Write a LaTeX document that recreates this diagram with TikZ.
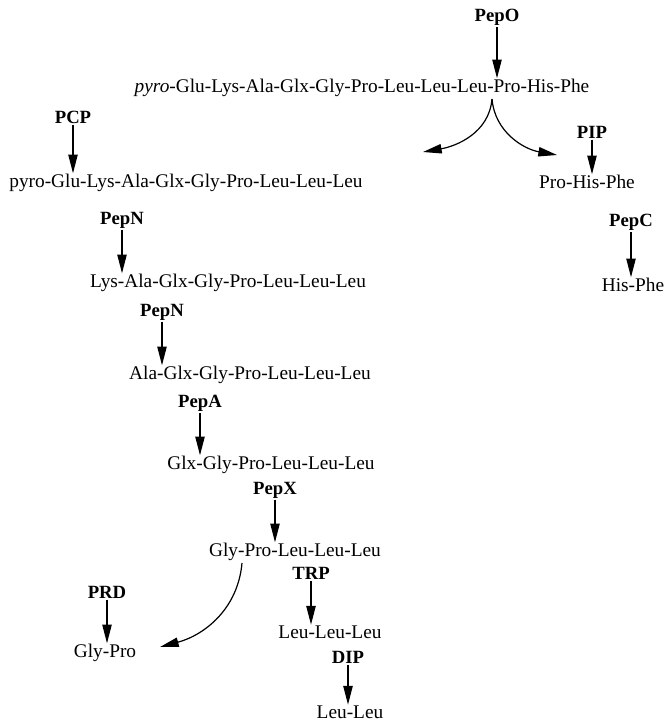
\documentclass[tikz,border=0pt]{standalone}
\usepackage{fontspec}
\setmainfont{Liberation Serif}
\usetikzlibrary{arrows.meta}
\tikzset{
    every node/.style={inner sep=0.5pt, font=\fontsize{14.5}{17}\selectfont}
}
\tikzset{
    enzyme/.style={inner sep=1pt, font=\fontsize{14}{17}\selectfont\bfseries}
}
\tikzset{
    every edge/.append style={line width=0.9pt,
    	-{Triangle[length=14pt,width=7pt]}}
}

\begin{document}
\begin{tikzpicture}[x=0.75pt, y=-0.75pt]
	\useasboundingbox (0,0) rectangle (667,721);
	\node (PepO) [enzyme] at (497, 17) {PepO};
	\node (top) at (362, 88) {\textit{pyro}-Glu-Lys-Ala-Glx-Gly-Pro-Leu-Leu-Leu-Pro-His-Phe};
	\node (PCP) [enzyme] at (73, 117) {PCP};
	\node (c2) at (186, 183) {pyro-Glu-Lys-Ala-Glx-Gly-Pro-Leu-Leu-Leu};
	\node (PepN1) [enzyme] at (122, 220) {PepN};
	\node (c3) at (228, 283) {Lys-Ala-Glx-Gly-Pro-Leu-Leu-Leu};
	\node (PepN2) [enzyme] at (162, 312) {PepN};
	\node (c4) at (250, 375) {Ala-Glx-Gly-Pro-Leu-Leu-Leu};
	\node (PepA) [enzyme] at (200, 403) {PepA};
	\node (c5) at (271, 465) {Glx-Gly-Pro-Leu-Leu-Leu};
	\node (PepX) [enzyme] at (275, 490) {PepX};
	\node (c6) at (295, 552) {Gly-Pro-Leu-Leu-Leu};
	\node (TRP) [enzyme] at (311, 573) {TRP};
	\node (lll) at (330, 632) {Leu-Leu-Leu};
	\node (DIP) [enzyme] at (348, 657) {DIP};
	\node (ll) at (350, 712) {Leu-Leu};
	\node (PRD) [enzyme] at (107, 592) {PRD};
	\node (gp) at (105, 653) {Gly-Pro};
	\node (PIP) [enzyme] at (592, 132) {PIP};
	\node (phf) at (587, 182) {Pro-His-Phe};
	\node (PepC) [enzyme] at (631, 222) {PepC};
	\node (hf) at (633, 285) {His-Phe};
	
	\coordinate (split) at (492, 99);
	\coordinate (left) at (423, 152);
	\coordinate (right) at (557, 155);
	\coordinate (cut) at (242, 563);
	\coordinate (gpin) at (160, 647);
	
	\draw (PepO) edge (PepO.south |- top.north); \draw (PCP) edge (PCP.south |- c2.north);
	\draw (PepN1) edge (PepN1.south |- c3.north);
	\draw (PepN2) edge (PepN2.south |- c4.north); \draw (PepA) edge (PepA.south |- c5.north);
	\draw (PepX) edge (PepX.south |- c6.north); \draw (TRP) edge (TRP.south |- lll.north);
	\draw (DIP) edge (DIP.south |- ll.north); \draw (PRD) edge (PRD.south |- gp.north);
	\draw (PIP) edge (PIP.south |- phf.north); \draw (PepC) edge (PepC.south |- hf.north);
	
	\draw (split) edge [out=-95, in=10] (left); \draw (split) edge [out=-85, in=170] (right);
	\draw (cut) edge [out=-95, in=15] (gpin);
\end{tikzpicture}
\end{document}
